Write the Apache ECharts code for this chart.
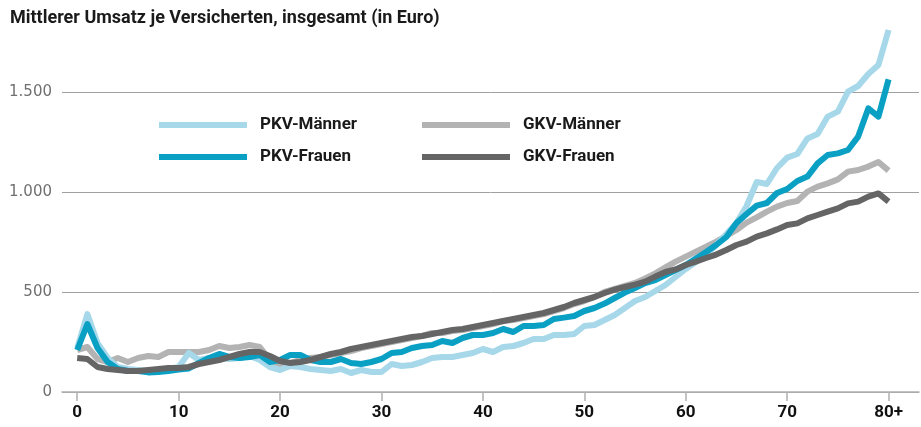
<!DOCTYPE html>
<html>
<head>
<meta charset="utf-8">
<script src="https://cdn.jsdelivr.net/npm/echarts@6/dist/echarts.min.js"></script>
<style>
html,body{margin:0;padding:0;background:#fff;}
#chart{width:921px;height:427px;}
</style>
</head>
<body>
<div id="chart"></div>
<script>
// ages 0 .. 80 (80 = "80+")
const ages = Array.from({length: 81}, (_, i) => i);
const xTicks = [0, 10, 20, 30, 40, 50, 60, 70, 80];
const yTicks = [0, 500, 1000, 1500];
const titleText = 'Mittlerer Umsatz je Versicherten, insgesamt (in Euro)';
const seriesNames = ['PKV-Männer', 'PKV-Frauen', 'GKV-Männer', 'GKV-Frauen'];

const pkvMaenner = [
  220, 390, 245, 170, 125, 115, 110, 105, 105, 115,
  125, 195, 160, 170, 170, 165, 170, 180, 160, 125,
  110, 130, 125, 115, 110, 105, 115, 95, 110, 100,
  100, 140, 130, 135, 150, 170, 175, 175, 185, 195,
  215, 200, 225, 230, 245, 265, 265, 285, 285, 290,
  330, 335, 360, 385, 420, 455, 475, 505, 535, 575,
  615, 650, 685, 735, 790, 845, 930, 1050, 1040, 1120,
  1172, 1190, 1268, 1290, 1377, 1402, 1502, 1530, 1590, 1635,
  1810
];
const pkvFrauen = [
  210, 340, 220, 150, 115, 105, 105, 98, 100, 105,
  112, 118, 145, 170, 190, 175, 170, 175, 185, 150,
  160, 185, 185, 160, 150, 150, 165, 145, 140, 150,
  165, 195, 200, 220, 230, 235, 255, 245, 270, 285,
  285, 295, 315, 300, 330, 330, 335, 365, 372, 380,
  405, 420, 442, 470, 497, 520, 545, 560, 585, 610,
  635, 668, 700, 735, 775, 845, 890, 932, 945, 995,
  1015, 1055, 1077, 1143, 1185, 1193, 1210, 1277, 1418, 1377,
  1563
];
const gkvMaenner = [
  210, 225, 165, 150, 170, 150, 170, 180, 175, 200,
  200, 200, 200, 210, 230, 220, 225, 235, 225, 160,
  135, 145, 160, 170, 175, 185, 195, 205, 220, 230,
  240, 250, 260, 270, 280, 295, 295, 305, 310, 320,
  330, 340, 355, 360, 370, 380, 390, 405, 420, 440,
  455, 475, 500, 515, 530, 545, 568, 593, 623, 652,
  677, 702, 727, 752, 780, 810, 847, 873, 902, 927,
  945, 955, 1002, 1027, 1043, 1063, 1102, 1110, 1127, 1150,
  1107
];
const gkvFrauen = [
  170, 165, 125, 115, 110, 105, 105, 110, 115, 120,
  120, 125, 140, 150, 160, 175, 190, 200, 200, 180,
  155, 145, 150, 160, 175, 190, 200, 215, 225, 235,
  245, 255, 265, 275, 280, 290, 300, 310, 315, 325,
  335, 345, 355, 365, 375, 385, 395, 410, 425, 445,
  460, 475, 495, 512, 525, 537, 552, 577, 600, 613,
  635, 652, 670, 687, 710, 735, 752, 777, 793, 813,
  835, 843, 868, 885, 902, 918, 943, 952, 977, 993,
  952
];

const colors = {
  'PKV-Männer': '#a6d8ea',
  'PKV-Frauen': '#0aa0c4',
  'GKV-Männer': '#b3b3b3',
  'GKV-Frauen': '#656565'
};
const dataByName = {
  'PKV-Männer': pkvMaenner,
  'PKV-Frauen': pkvFrauen,
  'GKV-Männer': gkvMaenner,
  'GKV-Frauen': gkvFrauen
};
const drawOrder = ['GKV-Männer', 'PKV-Männer', 'PKV-Frauen', 'GKV-Frauen'];

const boldFont = "Roboto, 'DejaVu Sans', sans-serif";
const chart = echarts.init(document.getElementById('chart'), null, {renderer: 'canvas'});

const legendCommon = {
  orient: 'vertical',
  icon: 'rect',
  itemWidth: 88,
  itemHeight: 6,
  itemGap: 12,
  top: 110,
  selectedMode: false,
  textStyle: {fontFamily: boldFont, fontWeight: 'bold', fontSize: 17, color: '#1a1a1a', lineHeight: 20, padding: [0, 0, 0, 8]}
};

chart.setOption({
  animation: false,
  title: {
    text: titleText,
    left: 5, top: 4,
    textStyle: {fontFamily: boldFont, fontWeight: 'bold', fontSize: 18, color: '#1a1a1a'}
  },
  legend: [
    Object.assign({}, legendCommon, {left: 154, data: ['PKV-Männer', 'PKV-Frauen']}),
    Object.assign({}, legendCommon, {left: 417, data: ['GKV-Männer', 'GKV-Frauen']})
  ],
  grid: {left: 62, top: 22, width: 857, height: 370, containLabel: false},
  xAxis: {
    type: 'value',
    min: -1.5, max: 83,
    axisLine: {show: true, lineStyle: {color: '#b0b0b0', width: 1.5}},
    axisTick: {show: true, customValues: xTicks, length: 9, lineStyle: {color: '#b0b0b0', width: 1.5}},
    axisLabel: {
      customValues: xTicks,
      margin: 12,
      fontFamily: boldFont, fontWeight: 'bold', fontSize: 17, color: '#111',
      formatter: v => (v === 80 ? '80+' : String(v))
    },
    splitLine: {show: false}
  },
  yAxis: {
    type: 'value',
    min: 0, max: 1850, interval: 500,
    axisLine: {show: false},
    axisTick: {show: false},
    axisLabel: {
      margin: 10,
      showMaxLabel: false,
      fontFamily: "'DejaVu Sans', sans-serif", fontSize: 15, color: '#707070',
      formatter: v => (yTicks.includes(v) ? v.toLocaleString('de-DE') : '')
    },
    splitLine: {show: true, showMaxLine: false, lineStyle: {color: '#a0a0a0', width: 1}}
  },
  series: drawOrder.map(name => ({
    name: name,
    type: 'line',
    showSymbol: false,
    symbol: 'none',
    clip: false,
    color: colors[name],
    lineStyle: {width: 6, color: colors[name], join: 'round'},
    data: ages.map((a, i) => [a, dataByName[name][i]])
  }))
});
</script>
</body>
</html>
